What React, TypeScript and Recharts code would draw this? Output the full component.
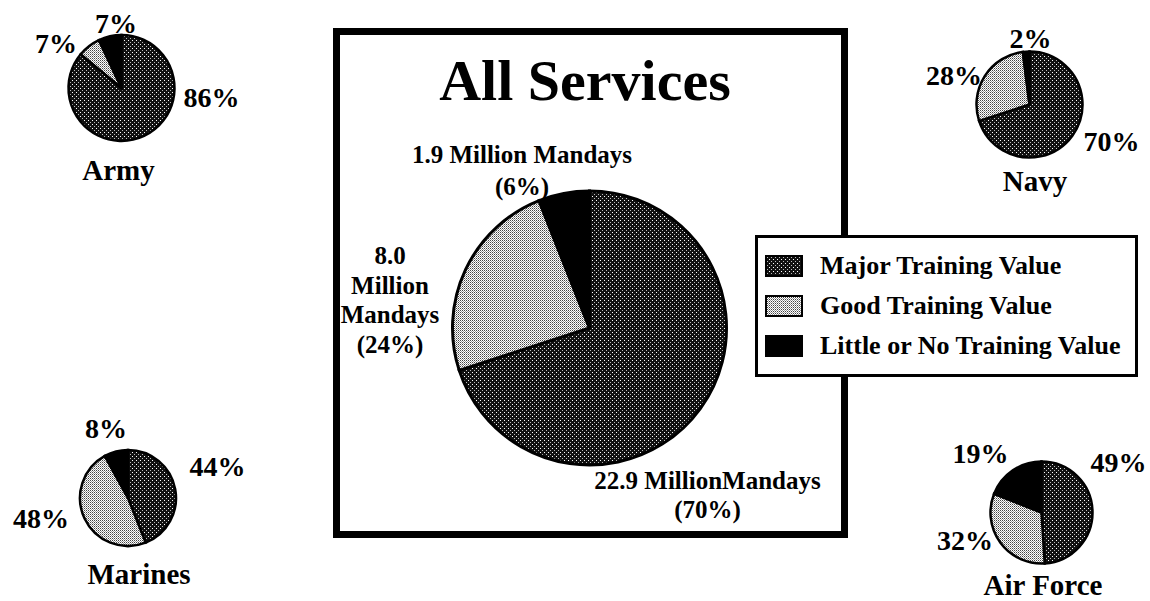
import React from 'react';
import { PieChart, Pie, Cell, Legend } from 'recharts';

// ---------- data ----------
const categories = ['Major Training Value', 'Good Training Value', 'Little or No Training Value'];
const armyValues = [86, 7, 7];
const navyValues = [70, 28, 2];
const marinesValues = [44, 48, 8];
const airForceValues = [49, 32, 19];
const allServicesValues = [70, 24, 6];
const allServicesMandays = [22.9, 8.0, 1.9];
const serviceNames = ['Army', 'Navy', 'Marines', 'Air Force'];
const titleText = 'All Services';

const toData = (values: number[]) => values.map((v, i) => ({ name: categories[i], value: v }));

const allServicesLabelLines: string[][] = [
  [`${allServicesMandays[0].toFixed(1)} MillionMandays`, `(${allServicesValues[0]}%)`],
  [allServicesMandays[1].toFixed(1), 'Million', 'Mandays', `(${allServicesValues[1]}%)`],
  [`${allServicesMandays[2].toFixed(1)} Million Mandays`, `(${allServicesValues[2]}%)`],
];

// ---------- layout / style ----------
const FONT = '"Liberation Serif", "Times New Roman", serif';
const fills = ['url(#pMajor)', 'url(#pGood)', '#000'];

const smallPies = [
  { name: serviceNames[0], values: armyValues, cx: 121.5, cy: 88, r: 53,
    offsets: [[90, 9.5], [-65.5, -45], [-5.5, -65]], nameOffset: [-3, 82] },
  { name: serviceNames[1], values: navyValues, cx: 1029.5, cy: 104.5, r: 53,
    offsets: [[82, 36.5], [-75.5, -29.5], [1, -66.5]], nameOffset: [5.5, 76.5] },
  { name: serviceNames[2], values: marinesValues, cx: 128, cy: 498, r: 48,
    offsets: [[89.5, -32], [-87, 20], [-22, -69.5]], nameOffset: [11, 76] },
  { name: serviceNames[3], values: airForceValues, cx: 1041.5, cy: 512.5, r: 51,
    offsets: [[77, -50.5], [-76.5, 27.5], [-61, -59.5]], nameOffset: [1.5, 72.5] },
];

const center = { cx: 589.5, cy: 328, r: 137 };
// [dx, first-baseline dy, line height] per slice
const centerLabelPos = [[118, 161, 29], [-199.5, -64, 29.7], [-67.5, -165, 32]];

const makePercentLabel = (offsets: number[][], values: number[], fx: number, fy: number) =>
  (props: any) => {
    const cx = typeof props.cx === 'number' ? props.cx : fx;
    const cy = typeof props.cy === 'number' ? props.cy : fy;
    const i = props.index;
    const [dx, dy] = offsets[i];
    return (
      <text key={`l${i}`} x={cx + dx} y={cy + dy} textAnchor="middle" dominantBaseline="central"
        fontFamily={FONT} fontWeight="bold" fontSize={28} fill="#000">
        {`${values[i]}%`}
      </text>
    );
  };

const centerLabel = (props: any) => {
  const cx = typeof props.cx === 'number' ? props.cx : center.cx;
  const cy = typeof props.cy === 'number' ? props.cy : center.cy;
  const i = props.index;
  const [dx, dy, lh] = centerLabelPos[i];
  return (
    <text key={`c${i}`} textAnchor="middle" fontFamily={FONT} fontWeight="bold" fontSize={25} fill="#000">
      {allServicesLabelLines[i].map((line, j) => (
        <tspan key={j} x={cx + dx} y={cy + dy + j * lh}>{line}</tspan>
      ))}
    </text>
  );
};

const Swatch = ({ fill }: { fill: string }) => (
  <svg width={38} height={22} style={{ display: 'block', flex: '0 0 auto' }}>
    <rect x={1} y={1} width={36} height={20} fill={fill} stroke="#000" strokeWidth={2} />
  </svg>
);

const renderLegend = () => (
  <div style={{
    width: 383, height: 142, boxSizing: 'border-box', border: '3px solid #000', background: '#fff',
    paddingTop: 8, fontFamily: FONT,
  }}>
    {categories.map((c, i) => (
      <div key={c} style={{ display: 'flex', alignItems: 'center', height: 40, paddingLeft: 7 }}>
        <Swatch fill={fills[i]} />
        <span style={{ marginLeft: 17, fontSize: 26, fontWeight: 'bold', lineHeight: 1, color: '#000', whiteSpace: 'nowrap' }}>{c}</span>
      </div>
    ))}
  </div>
);

export default function App() {
  return (
    <div style={{ position: 'absolute', left: 0, top: 0, width: 1150, height: 601, background: '#fff', overflow: 'hidden', fontFamily: FONT }}>
      <svg width={0} height={0} style={{ position: 'absolute' }}>
        <defs>
          <pattern id="pMajor" width={4} height={4} patternUnits="userSpaceOnUse">
            <rect width={4} height={4} fill="#111" />
            <rect x={0} y={0} width={1} height={1} fill="#fff" />
            <rect x={2} y={2} width={1} height={1} fill="#bbb" />
          </pattern>
          <pattern id="pGood" width={2} height={2} patternUnits="userSpaceOnUse">
            <rect width={2} height={2} fill="#fff" />
            <rect x={0} y={0} width={1} height={1} fill="#444" />
            <rect x={1} y={1} width={1} height={1} fill="#999" />
          </pattern>
        </defs>
      </svg>
      {/* frame around "All Services" */}
      <div style={{ position: 'absolute', left: 333, top: 28, width: 515, height: 510, boxSizing: 'border-box', border: '7px solid #000' }} />
      <div style={{ position: 'absolute', left: 0, top: 0 }}>
        <PieChart width={1150} height={601} margin={{ top: 0, right: 0, bottom: 0, left: 0 }}>
          <Pie data={toData(allServicesValues)} dataKey="value" nameKey="name"
            cx={center.cx} cy={center.cy} outerRadius={center.r} startAngle={90} endAngle={-270}
            stroke="#000" strokeWidth={3} isAnimationActive={false} labelLine={false} label={centerLabel}>
            {allServicesValues.map((_, i) => <Cell key={i} fill={fills[i]} stroke="#000" />)}
          </Pie>
          {smallPies.map((p) => (
            <Pie key={p.name} data={toData(p.values)} dataKey="value" nameKey="name"
              cx={p.cx} cy={p.cy} outerRadius={p.r} startAngle={90} endAngle={-270}
              stroke="#000" strokeWidth={2.5} isAnimationActive={false} labelLine={false}
              label={makePercentLabel(p.offsets, p.values, p.cx, p.cy)}>
              {p.values.map((_, i) => <Cell key={i} fill={fills[i]} stroke="#000" />)}
            </Pie>
          ))}
          <Legend content={renderLegend} wrapperStyle={{ position: 'absolute', left: 755, top: 235, width: 383, height: 142, bottom: 'auto', right: 'auto' }} />
        </PieChart>
      </div>
      {/* titles */}
      <svg width={1150} height={601} style={{ position: 'absolute', left: 0, top: 0, pointerEvents: 'none' }}>
        <text x={585} y={100} textAnchor="middle" fontFamily={FONT} fontWeight="bold" fontSize={58} fill="#000">{titleText}</text>
        {smallPies.map((p) => (
          <text key={p.name} x={p.cx + p.nameOffset[0]} y={p.cy + p.nameOffset[1]} textAnchor="middle"
            dominantBaseline="central" fontFamily={FONT} fontWeight="bold" fontSize={29} fill="#000">{p.name}</text>
        ))}
      </svg>
    </div>
  );
}
